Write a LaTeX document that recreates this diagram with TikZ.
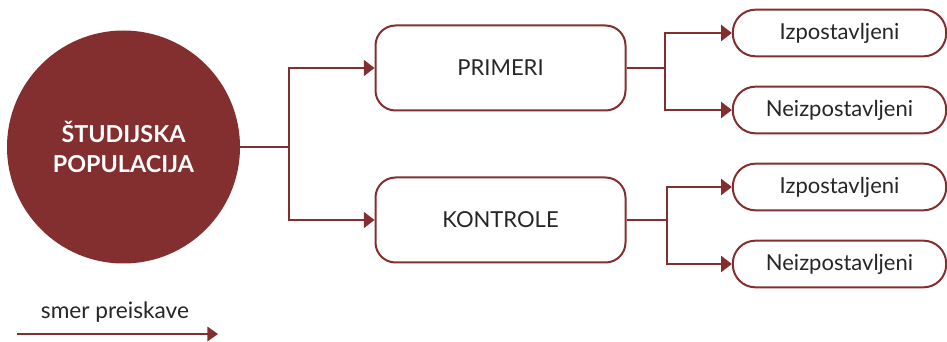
\documentclass[tikz,border=0pt]{standalone}
\usepackage{fontspec}
\setmainfont{Lato}
\usetikzlibrary{arrows.meta}
\definecolor{wine}{HTML}{832F30}
\tikzset{pop/.style={circle, fill=wine, draw=none, minimum size=174.75pt, inner sep=0pt, text=white, font=\bfseries\fontsize{17.5}{22}\selectfont, align=center}}
\tikzset{group/.style={draw=wine, line width=1.5pt, rounded corners=15pt, minimum width=187.5pt, minimum height=63.75pt, fill=white, font=\fontsize{16.5}{20}\selectfont, text=black!85}}
\tikzset{leaf/.style={draw=wine, line width=1.5pt, rounded corners=17pt, minimum width=160pt, minimum height=35pt, fill=white, font=\fontsize{16.5}{20}\selectfont, text=black!85}}
\tikzset{link/.style={draw=wine, line width=1.5pt}}
\tikzset{arr/.style={link, -{Triangle[length=8pt, width=12pt]}}}

\begin{document}
\begin{tikzpicture}[x=0.75pt, y=-0.75pt]
    \useasboundingbox (0,0) rectangle (947,342);

    \node (pop) at (123.5,147) [pop] {ŠTUDIJSKA\\POPULACIJA};
    \node (prim) at (500.5,68) [group] {PRIMERI};
    \node (kont) at (500.5,220) [group] {KONTROLE};

    \node (pizp) at (839.5,33) [leaf] {Izpostavljeni};
    \node (pnei) at (839.5,110) [leaf] {Neizpostavljeni};
    \node (kizp) at (839.5,187) [leaf] {Izpostavljeni};
    \node (knei) at (839.5,264) [leaf] {Neizpostavljeni};

    \coordinate (j0) at (289,147);
    \coordinate (j1) at (665,68);
    \coordinate (j2) at (667,220);

    \draw[link] (pop) -- (j0);
    \draw[arr] (j0) |- (prim);
    \draw[arr] (j0) |- (kont);

    \draw[link] (prim) -- (j1);
    \draw[arr] (j1) |- (pizp);
    \draw[arr] (j1) |- (pnei);

    \draw[link] (kont) -- (j2);
    \draw[arr] (j2) |- (kizp);
    \draw[arr] (j2) |- (knei);

    % legend
    \node (dir) at (115,312) [font=\fontsize{17}{20}\selectfont, text=black!85] {smer preiskave};
    \coordinate (ds) at (17,334);
    \coordinate (de) at (218,334);
    \draw[wine, line width=1pt, -{Triangle[length=8pt, width=11pt]}] (ds) -- (de);
\end{tikzpicture}
\end{document}
